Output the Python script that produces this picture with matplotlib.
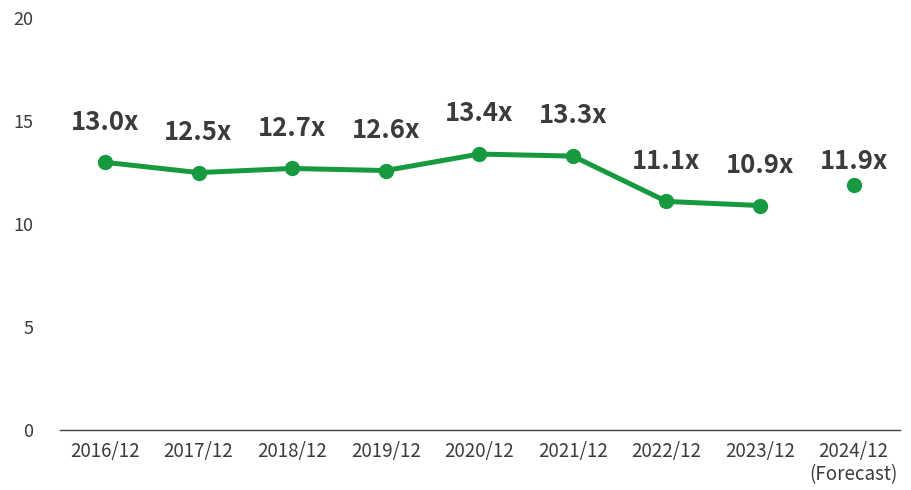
import matplotlib
matplotlib.use("Agg")
import matplotlib.pyplot as plt
import numpy as np

plt.rcParams['font.family'] = ['Noto Sans CJK JP', 'DejaVu Sans']

# data
periods = ["2016/12", "2017/12", "2018/12", "2019/12", "2020/12",
           "2021/12", "2022/12", "2023/12", "2024/12\n(Forecast)"]
actual = [13.0, 12.5, 12.7, 12.6, 13.4, 13.3, 11.1, 10.9]
forecast = [11.9]
y_ticks = [0, 5, 10, 15, 20]

green = "#179a3f"
text_col = "#3b3b3b"

fig = plt.figure(figsize=(9.12, 4.9), dpi=100)
ax = fig.add_axes([0.0658, 0.1224, 0.9215, 0.8406])

x = np.arange(len(periods))
n = len(actual)
ax.plot(x[:n], actual, color=green, lw=3.6, marker="o", ms=10,
        solid_capstyle="round", zorder=3)
ax.plot(x[n:], forecast, color=green, lw=0, marker="o", ms=10, zorder=3)

for xi, v in zip(x[:n], actual):
    ax.annotate(f"{v:.1f}x", (xi, v), xytext=(0, 29), textcoords="offset points",
                ha="center", va="center", fontsize=18.5, fontweight="bold",
                color=text_col)
for xi, v in zip(x[n:], forecast):
    ax.annotate(f"{v:.1f}x", (xi, v), xytext=(0, 17), textcoords="offset points",
                ha="center", va="center", fontsize=18.5, fontweight="bold",
                color=text_col)

ax.set_xlim(-0.48, 8.5)
ax.set_ylim(0, 20)
ax.set_yticks(y_ticks)
ax.set_xticks(x)
ax.set_xticklabels(periods, fontsize=13.5, color=text_col, linespacing=1.1)
ax.tick_params(axis="y", length=0, pad=19, labelsize=13, labelcolor=text_col)
ax.tick_params(axis="x", length=0, pad=8)

for s in ["top", "right", "left"]:
    ax.spines[s].set_visible(False)
ax.spines["bottom"].set_color("#404040")
ax.spines["bottom"].set_linewidth(1.0)

fig.savefig("out.png", dpi=100)
